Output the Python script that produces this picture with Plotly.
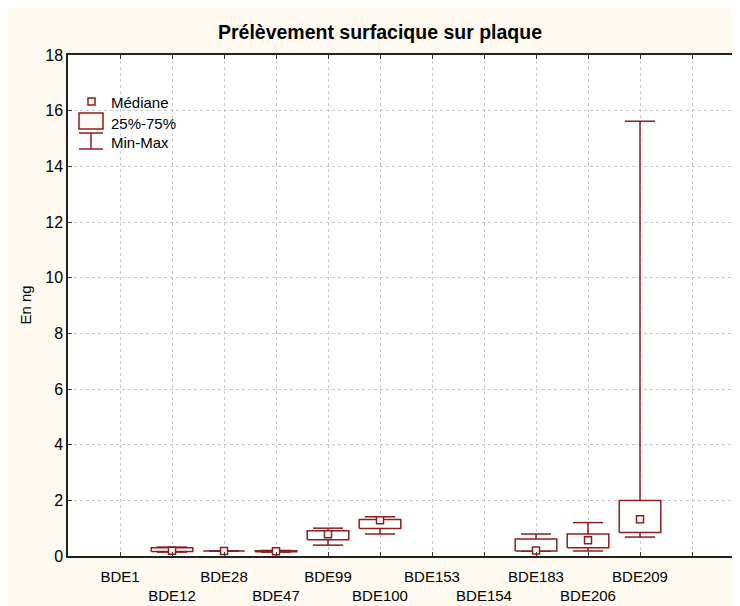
import plotly.graph_objects as go

# categories and box statistics (ng)
categories = ["BDE1", "BDE12", "BDE28", "BDE47", "BDE99", "BDE100",
              "BDE153", "BDE154", "BDE183", "BDE206", "BDE209"]
mins = [None, 0.14, 0.18, 0.14, 0.39, 0.79, None, None, 0.17, 0.18, 0.68]
q1s = [None, 0.16, 0.18, 0.15, 0.58, 0.99, None, None, 0.18, 0.30, 0.84]
medians = [None, 0.19, 0.18, 0.17, 0.78, 1.28, None, None, 0.20, 0.57, 1.32]
q3s = [None, 0.30, 0.18, 0.19, 0.91, 1.31, None, None, 0.61, 0.79, 1.99]
maxs = [None, 0.32, 0.18, 0.20, 1.00, 1.41, None, None, 0.79, 1.20, 15.62]

y_ticks = list(range(0, 19, 2))
legend_labels = ["Médiane", "25%-75%", "Min-Max"]

RED = "#8b1e1e"
CREAM = "#fffaf0"
FONT = "Liberation Sans, Arial, sans-serif"

BOX_HALF = 0.40
CAP_HALF = 0.29

# plot area in figure pixels (the page adds an 8px body margin)
W, H = 732, 598
L, T, R, B = 60, 47, 0, 50
PW, PH = W - L - R, H - T - B


def px(x):
    return (x - L) / PW


def py(y):
    return (H - B - y) / PH


xpos = list(range(1, len(categories) + 1))

# whiskers: vertical line + caps, joined with None gaps
wx, wy = [], []
bx, by = [], []
mx, my = [], []
for x, lo, a, m, b, hi in zip(xpos, mins, q1s, medians, q3s, maxs):
    if m is None:
        continue
    wx += [x, x, None, x - CAP_HALF, x + CAP_HALF, None, x - CAP_HALF, x + CAP_HALF, None]
    wy += [lo, hi, None, lo, lo, None, hi, hi, None]
    bx += [x - BOX_HALF, x + BOX_HALF, x + BOX_HALF, x - BOX_HALF, x - BOX_HALF, None]
    by += [a, a, b, b, a, None]
    mx.append(x)
    my.append(m)

fig = go.Figure()

fig.add_trace(go.Scatter(
    x=wx, y=wy, mode="lines", line=dict(color=RED, width=1.5),
    showlegend=False, hoverinfo="skip",
))
fig.add_trace(go.Scatter(
    x=bx, y=by, mode="lines", fill="toself", fillcolor="white",
    line=dict(color=RED, width=1.5), showlegend=False, hoverinfo="skip",
))
fig.add_trace(go.Scatter(
    x=mx, y=my, mode="markers", name="Médiane",
    marker=dict(symbol="square", size=7, color="white", line=dict(color=RED, width=1.5)),
    showlegend=False,
))

# hand-drawn Statistica style legend (figure pixel positions)
legend_shapes = [
    # median square
    dict(type="rect", x0=px(80), x1=px(87), y0=py(90), y1=py(97)),
    # 25%-75% box
    dict(type="rect", x0=px(71), x1=px(95), y0=py(105), y1=py(121)),
    # min-max whisker
    dict(type="line", x0=px(71), x1=px(95), y0=py(125), y1=py(125)),
    dict(type="line", x0=px(83), x1=px(83), y0=py(125), y1=py(141)),
    dict(type="line", x0=px(71), x1=px(95), y0=py(141), y1=py(141)),
]
for s in legend_shapes:
    s.update(xref="paper", yref="paper", line=dict(color=RED, width=1.5))
    if s["type"] == "rect":
        s.update(fillcolor=CREAM)

legend_notes = [
    dict(text=t, xref="paper", yref="paper", x=px(101), y=py(yc),
         xanchor="left", yanchor="middle", showarrow=False, font=dict(size=15))
    for t, yc in zip(legend_labels, [94, 115, 134])
]

ticktext = [c if i % 2 == 0 else "<br>" + c for i, c in enumerate(categories)] + [""]

fig.update_layout(
    width=W, height=H,
    margin=dict(l=L, r=R, t=T, b=B),
    paper_bgcolor=CREAM, plot_bgcolor="white",
    font=dict(family=FONT, size=15, color="black"),
    showlegend=False,
    title=dict(
        text="<b>Prélèvement surfacique sur plaque</b>",
        x=px(372), xref="paper", xanchor="center",
        y=1 - 24 / H, yref="container", yanchor="middle",
        font=dict(size=19.5),
    ),
    xaxis=dict(
        range=[0, PW / 52], tickmode="array",
        tickvals=xpos + [12], ticktext=ticktext, tickangle=0,
        showgrid=True, gridcolor="#c8c8c8", griddash="dot", gridwidth=1,
        ticks="inside", ticklen=4, tickcolor="#333",
        showline=True, linecolor="#222", linewidth=1.5, mirror="ticks",
        zeroline=False, tickfont=dict(size=15), automargin=False,
        ticklabelstandoff=6,
    ),
    yaxis=dict(
        range=[0, 18], tickvals=y_ticks,
        showgrid=True, gridcolor="#c8c8c8", griddash="dot", gridwidth=1,
        ticks="inside", ticklen=4, tickcolor="#333",
        showline=True, linecolor="#222", linewidth=1.5,
        zeroline=False, tickfont=dict(size=16), automargin=False,
    ),
    shapes=legend_shapes,
    annotations=[
        dict(text="En ng", xref="paper", yref="paper", x=px(17), y=0.5,
             textangle=-90, showarrow=False, font=dict(size=15),
             xanchor="center", yanchor="middle"),
    ] + legend_notes,
)

# keep the window free of scrollbars
fig.write_html(
    "out.html",
    post_script="document.documentElement.style.overflow = 'hidden';"
                "document.body.style.overflow = 'hidden';",
)
